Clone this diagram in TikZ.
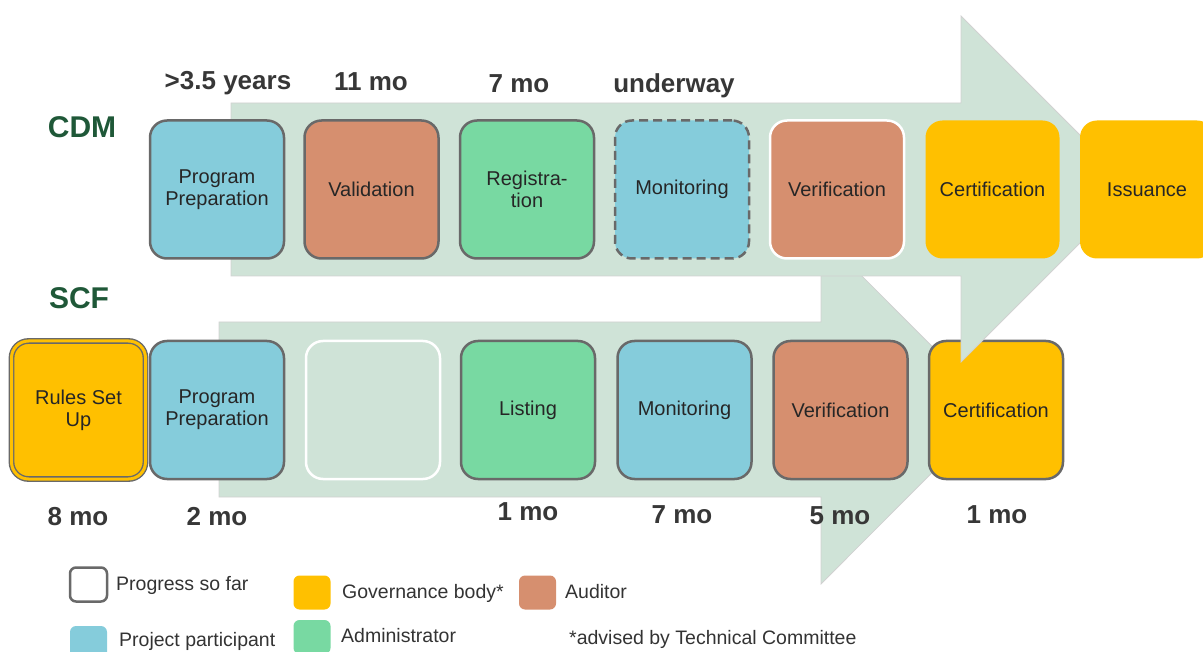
\documentclass[tikz,border=0pt]{standalone}
\usepackage{fontspec}
\setmainfont{Liberation Sans}
\definecolor{arrowgreen}{RGB}{207,227,215}
\definecolor{ppblue}{RGB}{133,204,219}
\definecolor{audorange}{RGB}{214,143,111}
\definecolor{admgreen}{RGB}{120,217,162}
\definecolor{govyellow}{RGB}{255,192,0}
\definecolor{edgegray}{RGB}{105,105,105}
\definecolor{titlegreen}{RGB}{31,88,56}
\definecolor{durgray}{RGB}{55,55,55}
\tikzset{
  stage/.style={rounded corners=17pt, minimum width=134pt, minimum height=138pt,
    inner sep=0pt, align=center, font=\fontsize{20}{22}\selectfont, text=black!85},
  grayline/.style={draw=edgegray, line width=2.5pt},
  dashline/.style={draw=edgegray, line width=2.5pt, dash pattern=on 9pt off 5pt},
  whiteline/.style={draw=white, line width=2.5pt},
  ruleline/.style={draw=edgegray, line width=1.4pt, double=govyellow, double distance=3pt},
  noline/.style={},
  dur/.style={font=\fontsize{26}{28}\selectfont\bfseries, text=durgray},
  scheme/.style={font=\fontsize{30}{32}\selectfont\bfseries, text=titlegreen},
  swatch/.style={rounded corners=6pt, minimum width=37pt, minimum height=34pt, inner sep=0pt},
  lgtext/.style={anchor=west, inner sep=0pt, font=\fontsize{19.5}{22}\selectfont, text=black!80},
  flow/.style={fill=arrowgreen, draw=black!18, line width=0.8pt}
}
\begin{document}
\begin{tikzpicture}[x=1pt,y=-1pt]
  \useasboundingbox (0,0) rectangle (1203,652);

  % SCF arrow and row
  \fill[flow] (219,322) -- (821,322) -- (821,235) -- (995,409.5) -- (821,584)
    -- (821,497) -- (219,497) -- cycle;
  \foreach \nm/\x/\clr/\sty/\txt in {
     rules/78.5/govyellow/ruleline/{Rules Set\\Up},
     prep/217/ppblue/grayline/{Program\\Preparation},
     gap/373/arrowgreen/whiteline/{},
     list/528/admgreen/grayline/{Listing},
     mon/684.5/ppblue/grayline/{Monitoring},
     ver/840.5/audorange/grayline/{Verification},
     cert/996/govyellow/grayline/{Certification}} {
    \node[stage, fill=\clr, \sty] (scf-\nm) at (\x,410) {\txt};
  }

  % CDM arrow and row
  \fill[flow] (231,103) -- (961,103) -- (961,16) -- (1134,189) -- (961,362)
    -- (961,276) -- (231,276) -- cycle;
  \foreach \nm/\x/\clr/\sty/\txt in {
     prep/217/ppblue/grayline/{Program\\Preparation},
     val/371.5/audorange/grayline/{Validation},
     reg/527/admgreen/grayline/{Registra-\\tion},
     mon/682/ppblue/dashline/{Monitoring},
     ver/837/audorange/whiteline/{Verification},
     cert/992.5/govyellow/noline/{Certification},
     iss/1147/govyellow/noline/{Issuance}} {
    \node[stage, fill=\clr, \sty] (cdm-\nm) at (\x,189.5) {\txt};
  }

  \node[scheme] (cdm) at (82,127) {CDM};
  \node[scheme] (scf) at (79,298) {SCF};

  % durations
  \foreach \nm/\x/\y/\txt in {a/228/83/{>3.5 years}, b/371/82/{11 mo},
     c/519/84/{7 mo}, d/674/86/{underway},
     e/78/517/{8 mo}, f/217/517/{2 mo}, g/528/512/{1 mo},
     h/682/515/{7 mo}, i/840/516/{5 mo}, j/997/515/{1 mo}} {
    \node[dur] (dur-\nm) at (\x,\y) {\txt};
  }

  % legend
  \node[swatch, fill=white, draw=edgegray, line width=2.5pt] (lg-prog) at (88.5,584.5) {};
  \node[swatch, fill=govyellow] (lg-gov) at (312,592.5) {};
  \node[swatch, fill=audorange] (lg-aud) at (537.5,592.5) {};
  \node[swatch, fill=ppblue] (lg-pp) at (88.5,643) {};
  \node[swatch, fill=admgreen] (lg-adm) at (312,637) {};
  \node[lgtext] (lt-prog) at (116,585) {Progress so far};
  \node[lgtext] (lt-gov) at (342,593) {Governance body*};
  \node[lgtext] (lt-aud) at (565,592) {Auditor};
  \node[lgtext] (lt-pp) at (119,641) {Project participant};
  \node[lgtext] (lt-adm) at (341,636) {Administrator};
  \node[lgtext] (lt-note) at (569,639) {*advised by Technical Committee};
\end{tikzpicture}
\end{document}
